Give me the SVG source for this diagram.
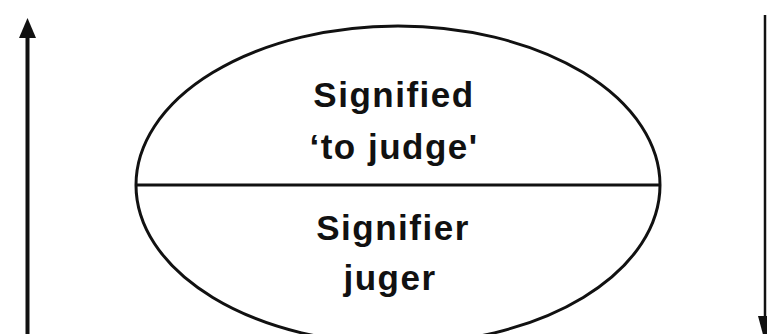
<svg xmlns="http://www.w3.org/2000/svg" width="767" height="334" viewBox="0 0 767 334">
<style>
.ln{stroke:#111;fill:none}
.t{font-family:"Liberation Sans",Arial,sans-serif;font-weight:bold;font-size:35px;fill:#111;text-anchor:middle;letter-spacing:1.5px}
</style>
<rect width="767" height="334" fill="#fff"/>
<g id="sign">
<ellipse class="ln" cx="398" cy="185" rx="262" ry="159" stroke-width="3"/>
<line class="ln" x1="137" y1="185" x2="659" y2="185" stroke-width="3"/>
</g>
<g id="signified">
<text class="t" x="394" y="107">Signified</text>
<text class="t" x="394" y="159">‘to judge'</text>
</g>
<g id="signifier">
<text class="t" x="393" y="240">Signifier</text>
<text class="t" x="390" y="290">juger</text>
</g>
<g id="connectors">
<line class="ln" x1="27.5" y1="334" x2="27.5" y2="34" stroke-width="4"/>
<polygon points="27.5,18 19,38 36,38" fill="#111"/>
<line class="ln" x1="765" y1="15" x2="765" y2="334" stroke-width="2.5"/>
<polygon points="758,316 772,316 765,342" fill="#111"/>
</g>
</svg>
